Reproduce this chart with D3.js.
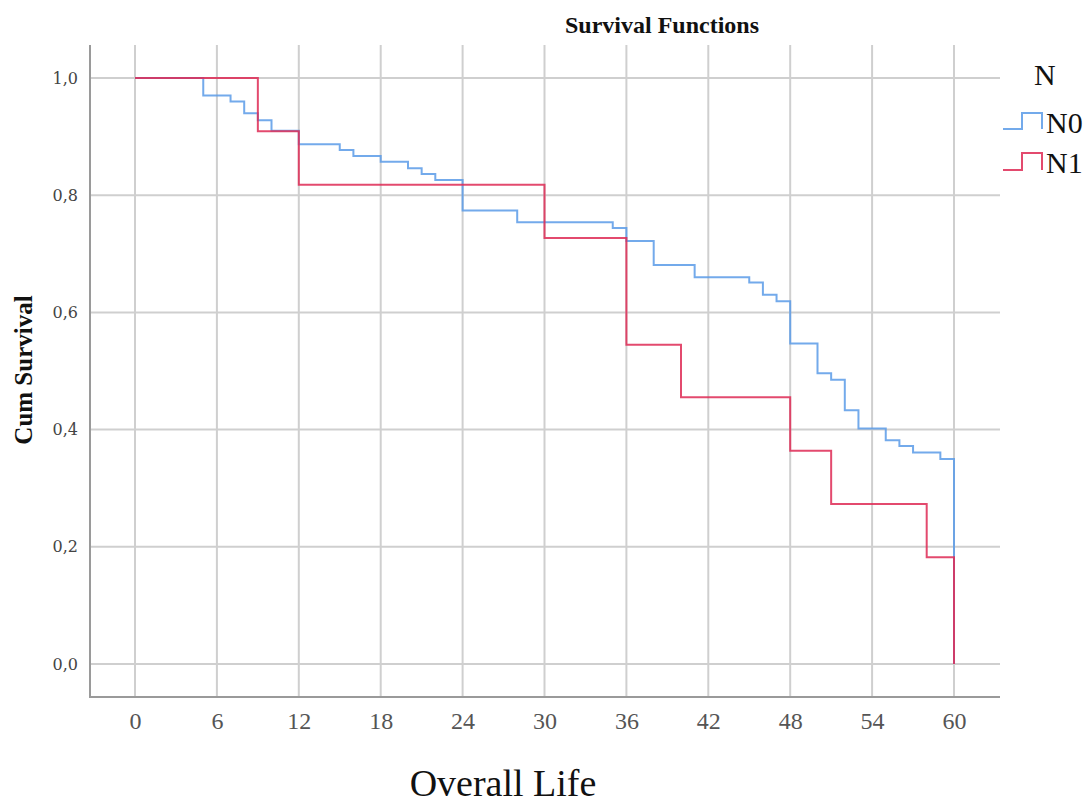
<!DOCTYPE html>
<html>
<head>
<meta charset="utf-8">
<script src="https://cdn.jsdelivr.net/npm/d3@7"></script>
<style>
  html, body { margin: 0; padding: 0; background: #fff; }
  svg { display: block; }
</style>
</head>
<body>
<svg id="chart" width="1091" height="803"></svg>
<script>
// ---- Data ----
const xTicks = [0, 6, 12, 18, 24, 30, 36, 42, 48, 54, 60];
const yTicks = [0, 0.2, 0.4, 0.6, 0.8, 1.0];
const yTickLabels = ["0,0", "0,2", "0,4", "0,6", "0,8", "1,0"];
const groupNames = ["N0", "N1"];
const n0Times = [0, 5, 7, 8, 9, 10, 12, 15, 16, 18, 20, 21, 22, 24, 28, 35, 36, 38, 41, 45, 46, 47, 48, 50, 51, 52, 53, 55, 56, 57, 59, 60];
const n0Surv  = [1, 0.970, 0.960, 0.940, 0.928, 0.910, 0.887, 0.877, 0.867, 0.857, 0.846, 0.836, 0.826, 0.774, 0.754, 0.744, 0.722, 0.681, 0.660, 0.651, 0.630, 0.619, 0.547, 0.496, 0.485, 0.433, 0.402, 0.382, 0.372, 0.361, 0.350, 0];
const n1Times = [0, 9, 12, 30, 36, 40, 48, 51, 58, 60];
const n1Surv  = [1, 0.909, 0.818, 0.727, 0.545, 0.455, 0.364, 0.273, 0.182, 0];

const colors = { N0: "#5a9be8", N1: "#de2a55" };

const svg = d3.select("#chart");

// frame
const frame = { left: 90, right: 1000, top: 45, bottom: 697 };
const x = d3.scaleLinear().domain([0, 60]).range([135, 954]);
const y = d3.scaleLinear().domain([0, 1]).range([664, 78]);

// gridlines
const grid = svg.append("g");
grid.selectAll("line.v").data(xTicks).join("line")
  .attr("x1", d => x(d)).attr("x2", d => x(d))
  .attr("y1", frame.top).attr("y2", frame.bottom)
  .attr("stroke", "#cfcfcf").attr("stroke-width", 2);
grid.selectAll("line.h").data(yTicks).join("line")
  .attr("x1", frame.left).attr("x2", frame.right)
  .attr("y1", d => y(d)).attr("y2", d => y(d))
  .attr("stroke", "#cfcfcf").attr("stroke-width", 2);

// axes
const xAxis = d3.axisBottom(x).tickValues(xTicks).tickSize(0).tickPadding(20).tickFormat(d3.format("d"));
const gx = svg.append("g").attr("transform", `translate(0,${frame.bottom})`).call(xAxis);
gx.select(".domain").remove();
gx.selectAll("text").attr("font-family", "'Liberation Serif', 'Times New Roman', serif")
  .attr("font-size", 24).attr("fill", "#555").attr("dy", "0.5em");

const yAxis = d3.axisLeft(y).tickValues(yTicks).tickSize(0).tickPadding(12)
  .tickFormat((d, i) => yTickLabels[i]);
const gy = svg.append("g").attr("transform", `translate(${frame.left},0)`).call(yAxis);
gy.select(".domain").remove();
gy.selectAll("text").attr("font-family", "'DejaVu Serif', serif")
  .attr("font-size", 16).attr("fill", "#444");

// axis lines
svg.append("line").attr("x1", frame.left).attr("x2", frame.left)
  .attr("y1", frame.top).attr("y2", frame.bottom + 1)
  .attr("stroke", "#9a9a9a").attr("stroke-width", 2);
svg.append("line").attr("x1", frame.left).attr("x2", frame.right)
  .attr("y1", frame.bottom).attr("y2", frame.bottom)
  .attr("stroke", "#9a9a9a").attr("stroke-width", 2);

// survival curves
const line = d3.line().x(d => x(d.t)).y(d => y(d.s)).curve(d3.curveStepAfter);
const series = [
  { name: "N0", data: n0Times.map((t, i) => ({ t, s: n0Surv[i] })) },
  { name: "N1", data: n1Times.map((t, i) => ({ t, s: n1Surv[i] })) }
];
svg.append("g").selectAll("path").data(series).join("path")
  .attr("d", d => line(d.data))
  .attr("fill", "none")
  .attr("stroke", d => colors[d.name])
  .attr("stroke-width", 2)
  .attr("stroke-opacity", 0.85);

// title
svg.append("text").attr("x", 662).attr("y", 33).attr("text-anchor", "middle")
  .attr("font-family", "'Liberation Serif', 'Times New Roman', serif")
  .attr("font-weight", "bold").attr("font-size", 24).attr("fill", "#111")
  .text("Survival Functions");

// y label
svg.append("text").attr("transform", "translate(32,370) rotate(-90)")
  .attr("text-anchor", "middle")
  .attr("font-family", "'Liberation Serif', 'Times New Roman', serif")
  .attr("font-weight", "bold").attr("font-size", 25).attr("fill", "#111")
  .text("Cum Survival");

// x label
svg.append("text").attr("x", 503).attr("y", 796).attr("text-anchor", "middle")
  .attr("font-family", "'Liberation Serif', 'Times New Roman', serif")
  .attr("font-size", 38).attr("fill", "#111")
  .text("Overall Life");

// legend
const lg = svg.append("g");
lg.append("text").attr("x", 1034).attr("y", 85)
  .attr("font-family", "'Liberation Serif', 'Times New Roman', serif")
  .attr("font-size", 30).attr("fill", "#111").text("N");
const legY = [{ name: "N0", base: 133, low: 129, high: 113 }, { name: "N1", base: 173, low: 170, high: 153 }];
const sym = lg.selectAll("g.item").data(legY).join("g");
sym.append("path")
  .attr("d", d => `M1003,${d.low}H1022V${d.high}H1042V${d.low}`)
  .attr("fill", "none").attr("stroke", d => colors[d.name])
  .attr("stroke-width", 2).attr("stroke-opacity", 0.85);
sym.append("text").attr("x", 1046).attr("y", d => d.base)
  .attr("font-family", "'Liberation Serif', 'Times New Roman', serif")
  .attr("font-size", 30).attr("fill", "#111").text(d => d.name);
</script>
</body>
</html>
